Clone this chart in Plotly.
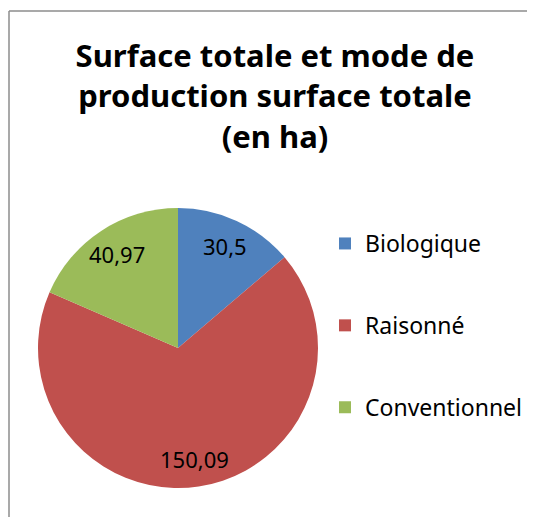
import math
import plotly.graph_objects as go

categories = ["Biologique", "Raisonné", "Conventionnel"]
values = [30.5, 150.09, 40.97]
colors = ["#4F81BD", "#C0504D", "#9BBB59"]
labels_txt = [str(v).replace(".", ",") for v in values]

OFF = 8  # page body margin
W, H = 535, 517
FONT = "Noto Sans"


def px(x):
    return (x - OFF) / W


def py(y):
    return 1 - (y - OFF) / H


# pie geometry (window pixels)
x0, x1, y0, y1 = 38, 318, 208, 488
cx, cy, R = (x0 + x1) / 2, (y0 + y1) / 2, (x1 - x0) / 2

fig = go.Figure()
fig.add_trace(go.Pie(
    labels=categories, values=values, textinfo="none",
    marker=dict(colors=colors, line=dict(width=0)),
    sort=False, direction="clockwise", rotation=0,
    domain=dict(x=[px(x0), px(x1)], y=[py(y1), py(y0)]),
    showlegend=False, hoverinfo="label+value",
))

# data labels placed along each slice's bisector
total = sum(values)
cum = 0
for v, t in zip(values, labels_txt):
    mid = (cum + v / 2) / total * 2 * math.pi
    cum += v
    r = 0.8 * R
    lx = cx + r * math.sin(mid)
    ly = cy - r * math.cos(mid)
    fig.add_annotation(x=px(lx), y=py(ly), xref="paper", yref="paper",
                       text=t, showarrow=False, xanchor="center", yanchor="middle",
                       font=dict(family=FONT, size=22, color="black"))

for c, col in zip(categories, colors):
    fig.add_trace(go.Scatter(
        x=[None], y=[None], mode="markers", name=c, legendgroup=c,
        marker=dict(symbol="square", size=15, color=col),
    ))

# chart-area frame: only its top and left edges are visible in the view
border = dict(color="#8C8C8C", width=1.5)
fig.add_shape(type="line", xref="paper", yref="paper",
              x0=px(9), x1=1, y0=py(11), y1=py(11), line=border)
fig.add_shape(type="line", xref="paper", yref="paper",
              x0=px(9), x1=px(9), y0=0, y1=py(11), line=border)

fig.update_layout(
    width=W, height=H, margin=dict(l=0, r=0, t=0, b=0),
    paper_bgcolor="white", plot_bgcolor="white",
    title=dict(text="Surface totale et mode de<br>production surface totale<br>(en ha)",
               x=px(275), xanchor="center", y=py(67), yanchor="top",
               font=dict(family=FONT, size=31, color="black", weight="bold")),
    xaxis=dict(visible=False), yaxis=dict(visible=False),
    legend=dict(x=px(339) - 14 / W, y=py(222), xanchor="left", yanchor="top",
                tracegroupgap=49, font=dict(family=FONT, size=23, color="black"),
                itemsizing="constant", bgcolor="rgba(0,0,0,0)"),
)
fig.write_html("out.html", config={"displayModeBar": False})
